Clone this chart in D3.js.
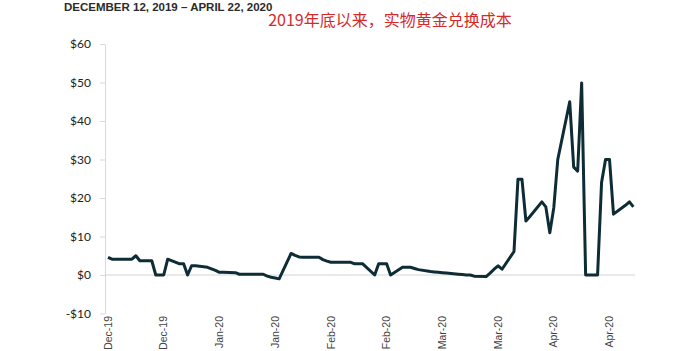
<!DOCTYPE html>
<html>
<head>
<meta charset="utf-8">
<script src="https://cdn.jsdelivr.net/npm/d3@7"></script>
<style>
  body { margin: 0; background: #fff; }
  svg { display: block; }
</style>
</head>
<body>
<script>
// one entry per calendar day from 12-Dec-19 to 22-Apr-20, null = weekend (no quote)
const values = [
  4.6, 4.1, null, null, 4.1, 4.1, 4.1, 5.0, 3.7, null, null,
  3.7, 0, 0, 0, 4.1, null, null,
  2.9, 2.9, 0, 2.4, 2.4, null, null,
  2.0, 1.6, 1.2, 0.7, 0.7, null, null,
  0.6, 0.2, 0.2, 0.2, 0.2, null, null,
  0.2, -0.3, -0.6, -0.8, -1.0, null, null,
  5.6, 5.1, 4.7, 4.6, 4.6, null, null,
  4.6, 4.0, 3.6, 3.3, 3.3, null, null,
  3.3, 3.3, 2.9, 2.9, 2.9, null, null,
  0, 2.9, 2.9, 2.9, 0, null, null,
  2.0, 2.0, 2.0, 1.7, 1.4, null, null,
  0.9, 0.8, 0.7, 0.6, 0.5, null, null,
  0.2, 0.1, 0.0, 0.0, -0.3, null, null,
  -0.4, 0.5, 1.5, 2.4, 1.5, null, null,
  6.1, 24.9, 24.9, 14.0, 15.2, null, null,
  19.0, 17.7, 11.0, 17.5, 30.0, null, null,
  45.0, 28.0, 27.0, 49.9, 0, null, null,
  0, 24.0, 30.0, 30.0, 15.8, null, null,
  18.1, 19.0, 17.7
];

// day offsets of the labelled dates, and their labels
const tickDays = [0, 14, 28, 42, 56, 70, 84, 98, 112, 126];
const tickLabels = ["Dec-19", "Dec-19", "Jan-20", "Jan-20", "Feb-20",
                    "Feb-20", "Mar-20", "Mar-20", "Apr-20", "Apr-20"];
const yTicks = [-10, 0, 10, 20, 30, 40, 50, 60];

const subtitle = "DECEMBER 12, 2019 \u2013 APRIL 22, 2020";
const title = "2019年底以来，实物黄金兑换成本";

const width = 685, height = 351;

const svg = d3.select("body").append("svg")
    .attr("width", width)
    .attr("height", height);

const x = d3.scaleLinear()
    .domain([0, values.length - 1])
    .range([108, 633.4]);

const y = d3.scaleLinear()
    .domain([-10, 60])
    .range([313.5, 44]);

// header texts
svg.append("text")
    .attr("x", 64)
    .attr("y", 11)
    .attr("font-family", "Liberation Sans, Arial, sans-serif")
    .attr("font-weight", "bold")
    .attr("font-size", 11.5)
    .attr("fill", "#2b2b2b")
    .text(subtitle);

svg.append("text")
    .attr("x", 390)
    .attr("y", 26)
    .attr("text-anchor", "middle")
    .attr("font-family", "Noto Sans CJK SC, sans-serif")
    .attr("font-size", 16)
    .attr("fill", "#d42a2a")
    .text(title);

// y axis
const yAxis = svg.append("g")
    .attr("transform", "translate(105,0)")
    .call(d3.axisLeft(y)
        .tickValues(yTicks)
        .tickSize(5)
        .tickSizeOuter(0)
        .tickPadding(9)
        .tickFormat(d => d < 0 ? "-$" + (-d) : "$" + d));

yAxis.select(".domain").attr("stroke", "#d9d9d9");
yAxis.selectAll(".tick line").attr("stroke", "#d9d9d9");
yAxis.selectAll(".tick text")
    .attr("font-family", "Lato, sans-serif")
    .attr("font-size", 12)
    .attr("fill", "#222");

// zero baseline
svg.append("line")
    .attr("x1", 105)
    .attr("x2", 635)
    .attr("y1", y(0))
    .attr("y2", y(0))
    .attr("stroke", "#d4d4d4")
    .attr("stroke-width", 1);

// x labels, rotated
svg.append("g")
    .selectAll("text")
    .data(tickDays)
    .join("text")
    .attr("transform", d => `translate(${x(d)},316) rotate(-90)`)
    .attr("text-anchor", "end")
    .attr("dy", "0.35em")
    .attr("font-family", "Liberation Sans, Arial, sans-serif")
    .attr("font-size", 10.5)
    .attr("fill", "#444")
    .text((d, i) => tickLabels[i]);

// the line, joining weekdays across weekends
const pts = values.map((v, i) => [i, v]).filter(p => p[1] !== null);

const line = d3.line()
    .x(d => x(d[0]))
    .y(d => y(d[1]));

svg.append("path")
    .datum(pts)
    .attr("fill", "none")
    .attr("stroke", "#0e2c35")
    .attr("stroke-width", 3)
    .attr("stroke-linejoin", "round")
    .attr("d", line);
</script>
</body>
</html>
